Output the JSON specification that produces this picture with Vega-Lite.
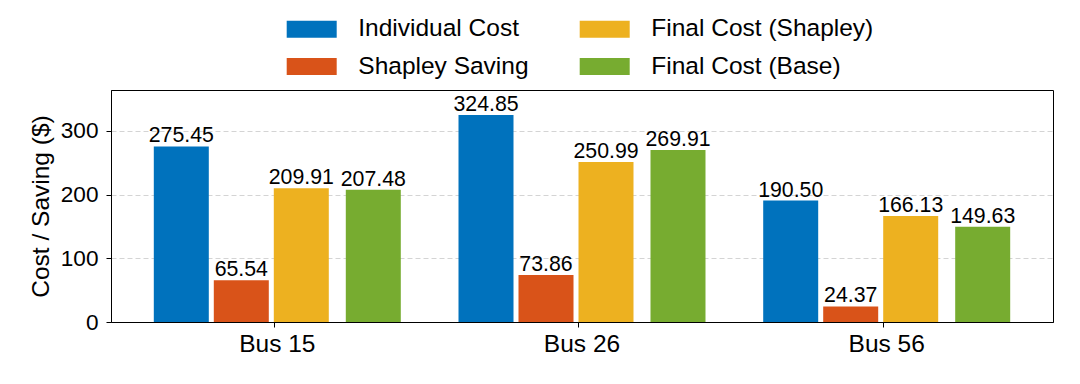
{
  "$schema": "https://vega.github.io/schema/vega-lite/v6.json",
  "width": 942,
  "height": 232,
  "autosize": {"type": "none"},
  "padding": {"left": 111, "top": 90, "right": 27, "bottom": 62},
  "background": "white",
  "config": {
    "font": "Liberation Sans",
    "view": {"stroke": "black", "strokeWidth": 1},
    "axis": {"labelColor": "black", "titleColor": "black", "domainColor": "black", "tickColor": "black", "labelFont": "Liberation Sans", "titleFont": "Liberation Sans"},
    "legend": {"labelFont": "Liberation Sans"}
  },
  "data": {
    "values": [
      {"bus": "Bus 15", "series": "Individual Cost", "value": 275.45},
      {"bus": "Bus 15", "series": "Shapley Saving", "value": 65.54},
      {"bus": "Bus 15", "series": "Final Cost (Shapley)", "value": 209.91},
      {"bus": "Bus 15", "series": "Final Cost (Base)", "value": 207.48},
      {"bus": "Bus 26", "series": "Individual Cost", "value": 324.85},
      {"bus": "Bus 26", "series": "Shapley Saving", "value": 73.86},
      {"bus": "Bus 26", "series": "Final Cost (Shapley)", "value": 250.99},
      {"bus": "Bus 26", "series": "Final Cost (Base)", "value": 269.91},
      {"bus": "Bus 56", "series": "Individual Cost", "value": 190.50},
      {"bus": "Bus 56", "series": "Shapley Saving", "value": 24.37},
      {"bus": "Bus 56", "series": "Final Cost (Shapley)", "value": 166.13},
      {"bus": "Bus 56", "series": "Final Cost (Base)", "value": 149.63}
    ]
  },
  "encoding": {
    "x": {
      "field": "bus", "type": "nominal",
      "scale": {"domain": ["Bus 15", "Bus 26", "Bus 56"], "paddingInner": 0.18937, "paddingOuter": 0.14047},
      "axis": {"title": null, "labelAngle": 0, "labelFontSize": 24.5, "labelPadding": 5, "tickSize": 5, "bandPosition": 0.487, "grid": false, "domain": true}
    },
    "y": {
      "field": "value", "type": "quantitative",
      "scale": {"domain": [0, 364], "nice": false, "zero": true},
      "axis": {"title": "Cost / Saving ($)", "titleFontSize": 24.5, "titleFontWeight": "normal", "titlePadding": 7, "values": [0, 100, 200, 300], "labelFontSize": 22.6, "labelPadding": 8, "tickSize": 5, "grid": true, "gridColor": "#d4d4d4", "gridDash": [5, 3], "gridWidth": 1}
    },
    "color": {
      "field": "series", "type": "nominal",
      "scale": {
        "domain": ["Individual Cost", "Final Cost (Shapley)", "Shapley Saving", "Final Cost (Base)"],
        "range": ["#0072BD", "#EDB120", "#D95319", "#77AC30"]
      },
      "legend": {
        "title": null, "orient": "none", "legendX": 175.7, "legendY": -86, "columns": 2, "direction": "horizontal",
        "padding": 0, "columnPadding": 51, "rowPadding": 0.5,
        "symbolType": "M-1,-0.34L1,-0.34L1,0.34L-1,0.34Z", "symbolSize": 2500, "symbolStrokeWidth": 0, "symbolOpacity": 1,
        "labelFontSize": 24.5, "labelOffset": 21.6, "labelColor": "black", "labelLimit": 400
      }
    }
  },
  "layer": [
    {
      "transform": [{"filter": "datum.series !== 'Final Cost (Base)'"}],
      "encoding": {
        "xOffset": {"field": "series", "type": "nominal", "scale": {"domain": ["Individual Cost", "Shapley Saving", "Final Cost (Shapley)"], "paddingInner": 0.08333, "paddingOuter": 0.6, "align": 0}}
      },
      "layer": [
        {"mark": {"type": "bar"}},
        {"mark": {"type": "text", "baseline": "alphabetic", "dy": -4, "fontSize": 21.3}, "encoding": {"text": {"field": "value", "type": "quantitative", "format": ".2f"}, "color": {"value": "black"}}}
      ]
    },
    {
      "transform": [{"filter": "datum.series === 'Final Cost (Base)'"}],
      "encoding": {
        "xOffset": {"field": "series", "type": "nominal", "scale": {"domain": ["slot1", "slot2", "slot3", "Final Cost (Base)"], "paddingInner": 0.140625, "paddingOuter": 0, "align": 0}}
      },
      "layer": [
        {"mark": {"type": "bar"}},
        {"mark": {"type": "text", "baseline": "alphabetic", "dy": -4, "fontSize": 21.3}, "encoding": {"text": {"field": "value", "type": "quantitative", "format": ".2f"}, "color": {"value": "black"}}}
      ]
    }
  ],
  "resolve": {"scale": {"xOffset": "independent"}}
}
